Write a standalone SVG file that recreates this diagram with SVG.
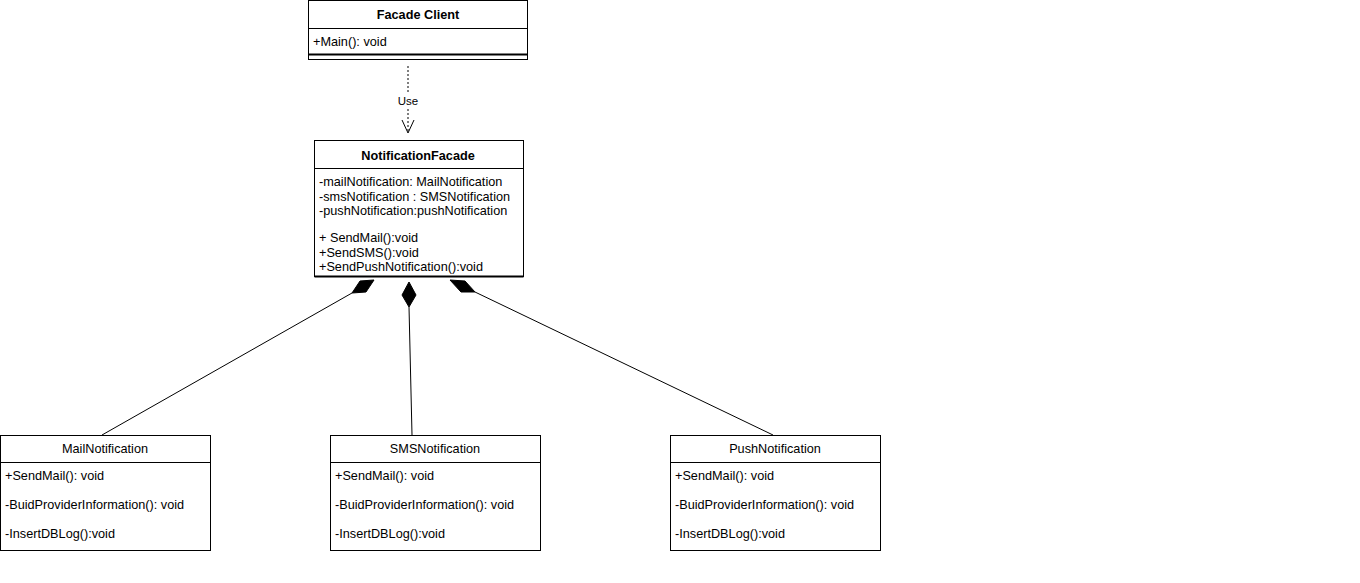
<svg xmlns="http://www.w3.org/2000/svg" width="1360" height="583" viewBox="0 0 1360 583">
<style>
.box{fill:#fff;stroke:#000;stroke-width:1}
.sep{stroke:#000;stroke-width:1}
.t{font-family:"Liberation Sans",Arial,sans-serif;font-size:12.7px;fill:#000}
.h{font-family:"Liberation Sans",Arial,sans-serif;font-size:12.7px;fill:#000;text-anchor:middle}
.b{font-weight:bold}
.ln{fill:none;stroke:#000;stroke-width:1}
.dash{fill:none;stroke:#000;stroke-width:1;stroke-dasharray:2,2}
.dia{fill:#000;stroke:#000;stroke-width:1}
</style>
<rect width="1360" height="583" fill="#fff"/>
<g id="connectors">
<line class="dash" x1="408" y1="66" x2="408" y2="94"/>
<line class="dash" x1="408" y1="109" x2="408" y2="132"/>
<text class="h" x="408" y="105" style="font-size:11.5px">Use</text>
<polyline class="ln" points="402,120 408,133 414,120"/>
<polygon class="dia" points="374,280 360,281 352,293 366,292"/>
<path class="ln" d="M352,293 L102,435"/>
<polygon class="dia" points="409,282 416,295 409,307 402,295"/>
<line class="ln" x1="409" y1="307" x2="412" y2="435"/>
<polygon class="dia" points="450,280 465,281 475,292 461,292"/>
<path class="ln" d="M475,292 L773,435"/>
</g>
<g id="facade-client">
<rect class="box" x="308.5" y="0.5" width="219" height="59"/>
<line class="sep" x1="308.5" y1="28.5" x2="527.5" y2="28.5"/>
<line class="sep" x1="308.5" y1="54.5" x2="527.5" y2="54.5" style="stroke-width:2"/>
<text class="h b" x="418" y="19">Facade Client</text>
<text class="t" x="313" y="46">+Main(): void</text>
</g>
<g id="notification-facade">
<rect class="box" x="314.5" y="140.5" width="209" height="136"/>
<line class="sep" x1="314.5" y1="168.5" x2="523.5" y2="168.5"/>
<line class="sep" x1="314.5" y1="276.5" x2="523.5" y2="276.5" style="stroke-width:2"/>
<text class="h b" x="418" y="160">NotificationFacade</text>
<text class="t" x="319" y="186">-mailNotification: MailNotification</text>
<text class="t" x="319" y="201">-smsNotification : SMSNotification</text>
<text class="t" x="319" y="215">-pushNotification:pushNotification</text>
<text class="t" x="319" y="242">+ SendMail():void</text>
<text class="t" x="319" y="257">+SendSMS():void</text>
<text class="t" x="319" y="271">+SendPushNotification():void</text>
</g>
<g id="mail-notification">
<rect class="box" x="0.5" y="435.5" width="210" height="115"/>
<line class="sep" x1="0.5" y1="462.5" x2="210.5" y2="462.5"/>
<text class="h" x="105" y="453">MailNotification</text>
<text class="t" x="5" y="480">+SendMail(): void</text>
<text class="t" x="5" y="509">-BuidProviderInformation(): void</text>
<text class="t" x="5" y="538">-InsertDBLog():void</text>
</g>
<g id="sms-notification">
<rect class="box" x="330.5" y="435.5" width="210" height="115"/>
<line class="sep" x1="330.5" y1="462.5" x2="540.5" y2="462.5"/>
<text class="h" x="435" y="453">SMSNotification</text>
<text class="t" x="335" y="480">+SendMail(): void</text>
<text class="t" x="335" y="509">-BuidProviderInformation(): void</text>
<text class="t" x="335" y="538">-InsertDBLog():void</text>
</g>
<g id="push-notification">
<rect class="box" x="670.5" y="435.5" width="210" height="115"/>
<line class="sep" x1="670.5" y1="462.5" x2="880.5" y2="462.5"/>
<text class="h" x="775" y="453">PushNotification</text>
<text class="t" x="675" y="480">+SendMail(): void</text>
<text class="t" x="675" y="509">-BuidProviderInformation(): void</text>
<text class="t" x="675" y="538">-InsertDBLog():void</text>
</g>
</svg>
